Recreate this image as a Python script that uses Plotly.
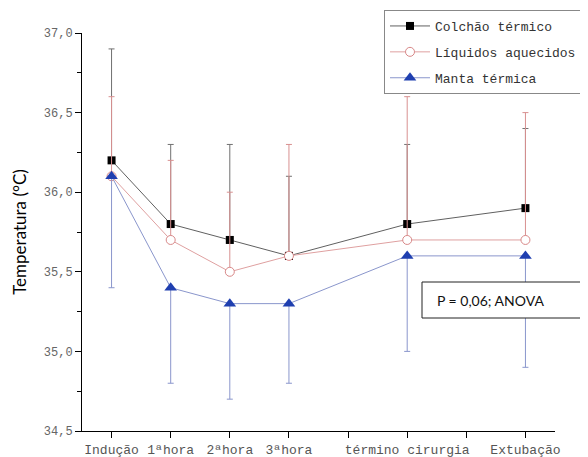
import plotly.graph_objects as go

# Data
x_tick_positions = [0, 1, 2, 3, 4, 5, 6, 7]
x_tick_labels = ["Indução", "1ªhora", "2ªhora", "3ªhora", "", "término cirurgia", "", "Extubação"]
x_points = [0, 1, 2, 3, 5, 7]

colchao = [36.2, 35.8, 35.7, 35.6, 35.8, 35.9]
colchao_err_up = [0.7, 0.5, 0.6, 0.5, 0.5, 0.5]

liquidos = [36.1, 35.7, 35.5, 35.6, 35.7, 35.7]
liquidos_err_up = [0.5, 0.5, 0.5, 0.7, 0.9, 0.8]

manta = [36.1, 35.4, 35.3, 35.3, 35.6, 35.6]
manta_err_down = [0.7, 0.6, 0.6, 0.5, 0.6, 0.7]

y_tick_vals = [34.5, 35.0, 35.5, 36.0, 36.5, 37.0]
y_tick_labels = ["34,5", "35,0", "35,5", "36,0", "36,5", "37,0"]

mono = "Liberation Mono"

fig = go.Figure()

fig.add_trace(go.Scatter(
    x=x_points, y=colchao, name="Colchão térmico", mode="lines+markers",
    line=dict(color="#606060", width=1),
    marker=dict(symbol="square", size=8, color="#000000"),
    error_y=dict(type="data", symmetric=False, array=colchao_err_up,
                 arrayminus=[0] * len(colchao), color="#707070", thickness=1, width=3),
    legendgroup="a",
))
fig.add_trace(go.Scatter(
    x=x_points, y=liquidos, name="Líquidos aquecidos", mode="lines+markers",
    line=dict(color="#dfa0a0", width=1),
    marker=dict(symbol="circle", size=9, color="#ffffff", line=dict(color="#d88888", width=1)),
    error_y=dict(type="data", symmetric=False, array=liquidos_err_up,
                 arrayminus=[0] * len(liquidos), color="#d89090", thickness=1, width=3),
    legendgroup="b",
))
fig.add_trace(go.Scatter(
    x=x_points, y=manta, name="Manta térmica", mode="lines+markers",
    line=dict(color="#8a96cc", width=1),
    marker=dict(symbol="triangle-up", size=11, color="#1f3fb0"),
    error_y=dict(type="data", symmetric=False, array=[0] * len(manta),
                 arrayminus=manta_err_down, color="#8a96cc", thickness=1, width=3),
    legendgroup="c",
))

# Annotation box
fig.add_shape(type="rect", xref="paper", yref="paper",
              x0=(422 - 82) / 473, x1=(600 - 82) / 473,
              y0=(431 - 318) / 398, y1=(431 - 282) / 398,
              line=dict(color="#222222", width=1), fillcolor="#ffffff", layer="above")
fig.add_annotation(xref="paper", yref="paper", x=(435 - 82) / 473, y=(431 - 300) / 398,
                   xanchor="left", yanchor="middle", showarrow=False,
                   text="P = 0,06; ANOVA", font=dict(family="Lato", size=14, color="#111111"))

fig.update_layout(
    width=580, height=449,
    margin=dict(l=74, r=33, t=25, b=26, autoexpand=False),
    paper_bgcolor="#ffffff", plot_bgcolor="#ffffff",
    showlegend=True,
    legend=dict(x=(582 - 82) / 473, y=(431 - 10) / 398, xanchor="right", yanchor="top",
                bordercolor="#888888", borderwidth=1, bgcolor="#ffffff",
                font=dict(family=mono, size=13, color="#333333"),
                tracegroupgap=6, itemwidth=40),
    xaxis=dict(range=[-0.5, 7.5], tickvals=x_tick_positions, ticktext=x_tick_labels,
               showgrid=False, zeroline=False, showline=True, linecolor="#000000", linewidth=1,
               ticks="outside", ticklen=6, tickcolor="#000000",
               tickfont=dict(family=mono, size=13, color="#555555")),
    yaxis=dict(range=[34.5, 37.0], tickvals=y_tick_vals, ticktext=y_tick_labels,
               showgrid=False, zeroline=False, showline=True, linecolor="#000000", linewidth=1,
               ticks="outside", ticklen=6, tickcolor="#000000",
               minor=dict(dtick=0.25, ticks="outside", ticklen=4, tickcolor="#000000", showgrid=False),
               tickfont=dict(family=mono, size=12, color="#666666"),
               title=dict(text="Temperatura (°C)", font=dict(family="Lato", size=17, color="#000000"),
                          standoff=12)),
)

fig.write_html("out.html")
